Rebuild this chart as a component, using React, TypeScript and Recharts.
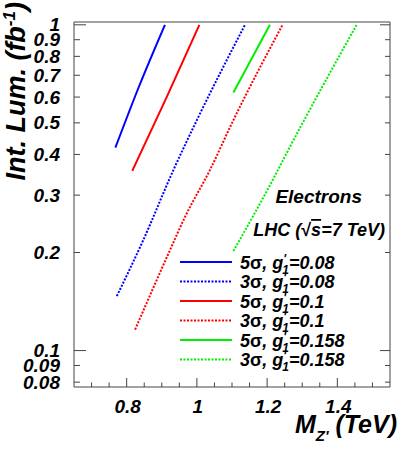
import { LineChart, Line, XAxis, YAxis, Legend } from 'recharts'

// Z' mass (TeV) vs integrated luminosity (fb^-1), electrons, LHC 7 TeV
const BLUE_5S_MASS = [0.768, 0.836, 0.909]
const BLUE_5S_LUMI = [0.42, 0.65, 1.0]
const BLUE_3S_MASS = [0.772, 0.847, 0.933, 1.0, 1.137]
const BLUE_3S_LUMI = [0.147, 0.218, 0.358, 0.51, 1.0]
const RED_5S_MASS = [0.816, 0.914, 1.007]
const RED_5S_LUMI = [0.356, 0.6, 1.0]
const RED_3S_MASS = [0.824, 0.923, 0.966, 1.037, 1.104, 1.244]
const RED_3S_LUMI = [0.116, 0.203, 0.257, 0.358, 0.51, 1.0]
const GREEN_5S_MASS = [1.104, 1.208]
const GREEN_5S_LUMI = [0.62, 1.0]
const GREEN_3S_MASS = [1.104, 1.216, 1.265, 1.455]
const GREEN_3S_LUMI = [0.202, 0.334, 0.422, 1.0]

const X_TICKS = [0.7, 0.75, 0.8, 0.85, 0.9, 0.95, 1, 1.05, 1.1, 1.15, 1.2, 1.25, 1.3, 1.35, 1.4, 1.45, 1.5]
const X_LABELS = [0.8, 1, 1.2, 1.4]
const Y_TICKS = [0.08, 0.09, 0.1, 0.2, 0.3, 0.4, 0.5, 0.6, 0.7, 0.8, 0.9, 1]
const Y_MAJOR = [0.1, 1]

const FONT = '"Liberation Sans", Arial, Helvetica, sans-serif'
const AXIS = '#444'

const zip = (m: number[], l: number[]) => m.map((x, i) => ({ mass: x, lumi: l[i] }))

const SERIES = [
  { id: 'b5', sigma: '5', g: '0.08', color: '#0000ff', dash: undefined, data: zip(BLUE_5S_MASS, BLUE_5S_LUMI) },
  { id: 'b3', sigma: '3', g: '0.08', color: '#0000ff', dash: '2 1.5', data: zip(BLUE_3S_MASS, BLUE_3S_LUMI) },
  { id: 'r5', sigma: '5', g: '0.1', color: '#ff0000', dash: undefined, data: zip(RED_5S_MASS, RED_5S_LUMI) },
  { id: 'r3', sigma: '3', g: '0.1', color: '#ff0000', dash: '2 1.5', data: zip(RED_3S_MASS, RED_3S_LUMI) },
  { id: 'g5', sigma: '5', g: '0.158', color: '#00ee00', dash: undefined, data: zip(GREEN_5S_MASS, GREEN_5S_LUMI) },
  { id: 'g3', sigma: '3', g: '0.158', color: '#00ee00', dash: '2 1.5', data: zip(GREEN_3S_MASS, GREEN_3S_LUMI) },
]

const isIn = (arr: number[], v: number) => arr.some((a) => Math.abs(a - v) < 1e-6)

const labelStyle = { fontFamily: FONT, fontWeight: 700, fontStyle: 'italic' as const, fontSize: 18, fill: '#000' }

function BottomTick({ x, y, payload }: any) {
  const major = isIn(X_LABELS, payload.value)
  return (
    <g>
      <line x1={x} x2={x} y1={y} y2={y - (major ? 9 : 4.5)} stroke={AXIS} />
      {major && (
        <text x={x + 1} y={y + 26} textAnchor="middle" {...labelStyle} fontSize={19}>
          {String(payload.value)}
        </text>
      )}
    </g>
  )
}

function TopTick({ x, y, payload }: any) {
  const major = isIn(X_LABELS, payload.value)
  return <line x1={x} x2={x} y1={y} y2={y + (major ? 9 : 4.5)} stroke={AXIS} />
}

function LeftTick({ x, y, payload }: any) {
  const major = isIn(Y_MAJOR, payload.value)
  return (
    <g>
      <line x1={x} x2={x + (major ? 12 : 6)} y1={y} y2={y} stroke={AXIS} />
      <text x={x - 14} y={y + 6.5} textAnchor="end" {...labelStyle} fontSize={19}>
        {String(payload.value)}
      </text>
    </g>
  )
}

function RightTick({ x, y, payload }: any) {
  const major = isIn(Y_MAJOR, payload.value)
  return <line x1={x} x2={x - (major ? 10 : 5)} y1={y} y2={y} stroke={AXIS} />
}

function LegendBox() {
  return (
    <svg width={200} height={120} style={{ display: 'block', overflow: 'visible' }}>
      {SERIES.map((s, i) => {
        const cy = 10 + i * 19.5
        return (
          <g key={s.id}>
            <line x1={4} x2={56} y1={cy} y2={cy} stroke={s.color} strokeWidth={2} strokeDasharray={s.dash} />
            <text x={64} y={cy + 6.5} {...labelStyle}>
              <tspan>{s.sigma}</tspan>
              <tspan fontStyle="normal">σ</tspan>
              <tspan>, g</tspan>
              <tspan dy={-6} fontSize={12}>'</tspan>
              <tspan dx={-4} dy={11} fontSize={12}>1</tspan>
              <tspan dy={-5}>={s.g}</tspan>
            </text>
          </g>
        )
      })}
    </svg>
  )
}

export default function App() {
  return (
    <div style={{ position: 'absolute', left: 0, top: 0, width: 399, height: 455, background: '#fff' }}>
      <LineChart width={399} height={455} margin={{ top: 21, right: 8, bottom: 67, left: 0 }}>
        <XAxis
          xAxisId="b"
          type="number"
          dataKey="mass"
          domain={[0.65, 1.55]}
          allowDataOverflow
          ticks={X_TICKS}
          interval={0}
          height={1}
          tickSize={0}
          tickMargin={0}
          tickLine={false}
          tick={BottomTick}
          axisLine={{ stroke: AXIS }}
        />
        <XAxis
          xAxisId="t"
          orientation="top"
          type="number"
          domain={[0.65, 1.55]}
          allowDataOverflow
          ticks={X_TICKS}
          interval={0}
          height={1}
          tickSize={0}
          tickMargin={0}
          tickLine={false}
          tick={TopTick}
          axisLine={{ stroke: AXIS }}
        />
        <YAxis
          yAxisId="l"
          scale="log"
          type="number"
          dataKey="lumi"
          domain={[0.0773, 1.02]}
          allowDataOverflow
          ticks={Y_TICKS}
          interval={0}
          width={74}
          tickSize={0}
          tickMargin={0}
          tickLine={false}
          tick={LeftTick}
          axisLine={{ stroke: AXIS }}
        />
        <YAxis
          yAxisId="r"
          orientation="right"
          scale="log"
          type="number"
          domain={[0.0773, 1.02]}
          allowDataOverflow
          ticks={Y_TICKS}
          interval={0}
          width={1}
          tickSize={0}
          tickMargin={0}
          tickLine={false}
          tick={RightTick}
          axisLine={{ stroke: AXIS }}
        />
        {SERIES.map((s) => (
          <Line
            key={s.id}
            xAxisId="b"
            yAxisId="l"
            data={s.data}
            dataKey="lumi"
            type="monotone"
            stroke={s.color}
            strokeWidth={2}
            strokeDasharray={s.dash}
            dot={false}
            activeDot={false}
            isAnimationActive={false}
          />
        ))}
        <Legend
          layout="vertical"
          align="center"
          verticalAlign="middle"
          content={LegendBox}
          wrapperStyle={{ left: 176, top: 252, width: 200, height: 120 }}
        />
      </LineChart>
      <svg
        width={399}
        height={455}
        style={{ position: 'absolute', left: 0, top: 0, pointerEvents: 'none' }}
      >
        <text x={362} y={203} textAnchor="end" {...labelStyle} fontSize={19}>
          Electrons
        </text>
        <text x={385} y={236} textAnchor="end" {...labelStyle}>
          LHC (
          <tspan fontStyle="normal">√</tspan>
          <tspan textDecoration="overline">s</tspan>=7 TeV)
        </text>
        <text
          transform="translate(25, 2) rotate(-90)"
          textAnchor="end"
          {...labelStyle}
          fontSize={27}
        >
          Int. Lum. (fb
          <tspan dy={-10} fontSize={17}>-1</tspan>
          <tspan dy={10}>)</tspan>
        </text>
        <text x={397} y={433} textAnchor="end" {...labelStyle} fontSize={25}>
          M
          <tspan dy={8} fontSize={15}>Z'</tspan>
          <tspan dy={-8}> (TeV)</tspan>
        </text>
      </svg>
    </div>
  )
}
